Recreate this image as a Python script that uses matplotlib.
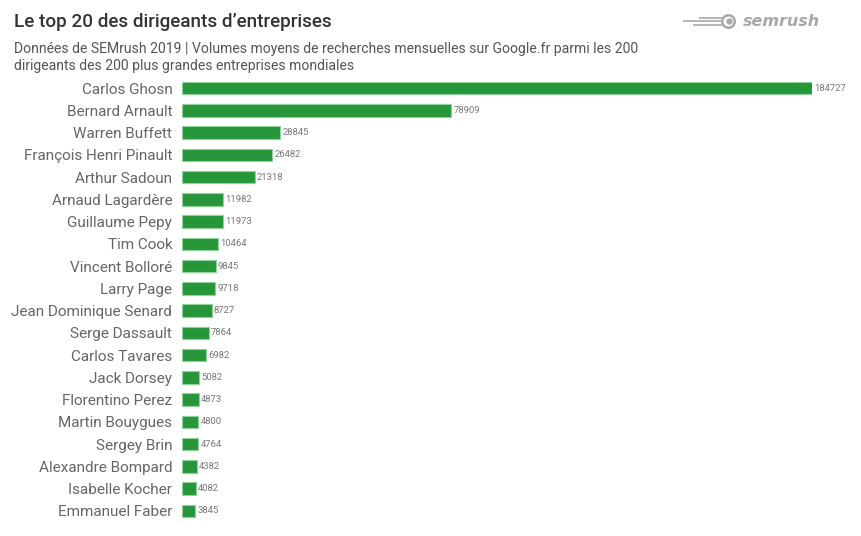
import matplotlib
matplotlib.use('Agg')
import matplotlib.pyplot as plt

plt.rcParams['font.family'] = ['Roboto', 'DejaVu Sans']

names = ['Carlos Ghosn', 'Bernard Arnault', 'Warren Buffett', 'François Henri Pinault',
         'Arthur Sadoun', 'Arnaud Lagardère', 'Guillaume Pepy', 'Tim Cook',
         'Vincent Bolloré', 'Larry Page', 'Jean Dominique Senard', 'Serge Dassault',
         'Carlos Tavares', 'Jack Dorsey', 'Florentino Perez', 'Martin Bouygues',
         'Sergey Brin', 'Alexandre Bompard', 'Isabelle Kocher', 'Emmanuel Faber']
volumes = [184727, 78909, 28845, 26482, 21318, 11982, 11973, 10464, 9845, 9718,
           8727, 7864, 6982, 5082, 4873, 4800, 4764, 4382, 4082, 3845]

W, H = 861, 536
fig = plt.figure(figsize=(W / 100, H / 100), dpi=100)
fig.patch.set_facecolor('white')

ax = fig.add_axes([182 / W, 1 - 522 / H, (812 - 182) / W, (522 - 77) / H])
y = list(range(len(names)))
ax.barh(y, volumes, height=0.56, color='#27963a', edgecolor='#8fd39a', linewidth=0.8)
ax.set_ylim(len(names) - 0.5, -0.5)
ax.set_xlim(0, max(volumes))
ax.set_yticks(y)
ax.set_yticklabels(names, fontsize=11, color='#666666')
ax.tick_params(axis='y', length=0, pad=7)
ax.set_xticks([])
for s in ax.spines.values():
    s.set_visible(False)

for yi, v in zip(y, volumes):
    ax.annotate(str(v), (v, yi), xytext=(1.5, 0), textcoords='offset points',
                va='center', ha='left', fontsize=6.8, color='#777777', annotation_clip=False)

fig.text(14 / W, 1 - 22 / H, 'Le top 20 des dirigeants d\u2019entreprises', fontsize=13.6,
         fontweight='medium', color='#333333', va='center', ha='left')
fig.text(14 / W, 1 - 49 / H, 'Données de SEMrush 2019 | Volumes moyens de recherches mensuelles sur Google.fr parmi les 200',
         fontsize=10.1, color='#555555', va='center', ha='left')
fig.text(14 / W, 1 - 66 / H, 'dirigeants des 200 plus grandes entreprises mondiales',
         fontsize=10.1, color='#555555', va='center', ha='left')

# logo
fig.text(743 / W, 1 - 22 / H, 'semrush', fontsize=11.5, fontstyle='oblique', fontweight='bold',
         family='DejaVu Sans', color='#a8a8a8', va='center', ha='left')
fig.add_artist(plt.Line2D([728 / W], [1 - 21 / H], marker='o', markersize=9,
                          markerfacecolor='white', markeredgecolor='#a8a8a8', markeredgewidth=1.8))
fig.add_artist(plt.Line2D([729 / W], [1 - 21 / H], marker='o', markersize=3.5,
                          color='#a8a8a8'))
for dy, x0 in [(-3.5, 700), (0, 684), (3.5, 694)]:
    fig.add_artist(plt.Line2D([x0 / W, 722 / W], [1 - (21 + dy) / H] * 2, color='#b5b5b5', lw=1.4))

fig.savefig('out.png', dpi=100, facecolor='white')
